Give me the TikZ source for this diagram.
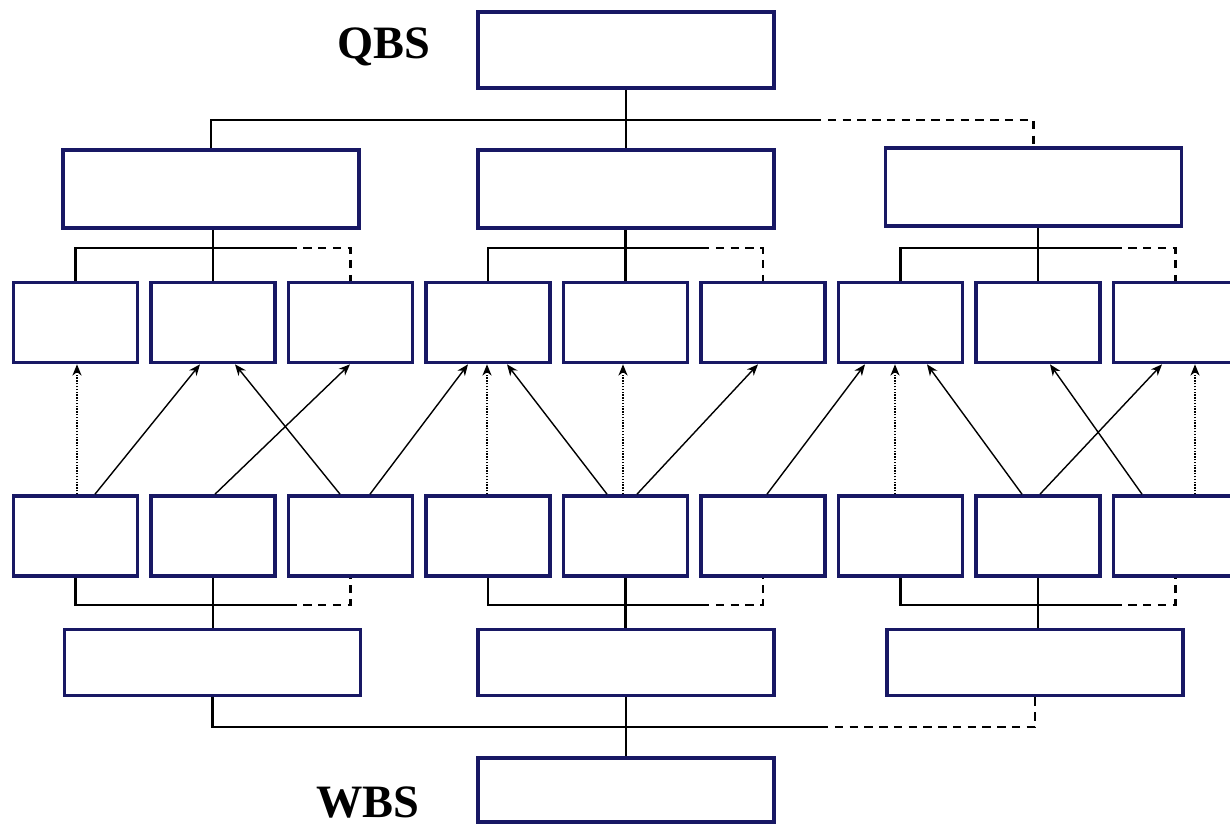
\documentclass[tikz,border=0pt]{standalone}
\usepackage{fontspec}
\setmainfont{Liberation Serif}
\usetikzlibrary{calc,arrows.meta}

\definecolor{boxblue}{RGB}{24,24,100}

\tikzset{
	widebox/.style={draw=boxblue, line width=2.6pt, fill=white, inner sep=0pt,
		minimum width=7.4cm, minimum height=1.95cm},
	smallbox/.style={draw=boxblue, line width=2.6pt, fill=white, inner sep=0pt,
		minimum width=3.1cm, minimum height=2cm},
	link/.style={line width=1.5pt},
	linkdash/.style={line width=1.5pt, dash pattern=on 6pt off 4.5pt},
	trace/.style={->, line width=1pt},
	tracev/.style={->, line width=1pt, densely dotted},
	tag/.style={font=\bfseries\fontsize{33}{33}\selectfont},
}

\begin{document}
\begin{tikzpicture}[x=0.025cm,y=-0.025cm,>={Stealth[length=8pt,width=6.5pt,inset=2.5pt]}]
	
	\useasboundingbox (0,0) rectangle (1230,827);
	
	% Draw the QBS tree (top)
	\node[tag] (qbs) at (384,47) {QBS};
	\node[widebox, minimum height=1.9cm] (q0) at (626,50) {};
	\node[widebox] (q1) at (211,189) {};
	\node[widebox] (q2) at (626,189) {};
	\node[widebox] (q3) at (1033.5,187) {};
	
	\coordinate (qdash) at (813,120);
	\draw[link] (q0.south) -- (q2.north);
	\draw[link] (q1.north) |- (qdash);
	\draw[linkdash] (qdash) -| (q3.north);
	
	% Draw the WBS tree (bottom)
	\node[widebox, minimum height=1.65cm] (w1) at (212.5,662.5) {};
	\node[widebox, minimum height=1.65cm] (w2) at (626,662.5) {};
	\node[widebox, minimum height=1.65cm] (w3) at (1035,662.5) {};
	\node[widebox, minimum height=1.6cm] (w0) at (626,790) {};
	\node[tag] (wbs) at (368,802) {WBS};
	
	\coordinate (wdash) at (820,727);
	\draw[link] (w2.south) -- (w0.north);
	\draw[link] (w1.south) |- (wdash);
	\draw[linkdash] (wdash) -| (w3.south);
	
	% Draw the two rows of small boxes
	\foreach \i in {1,...,9}{
		\node[smallbox] (a\i) at ({75.5+137.5*(\i-1)},322.5) {};
		\node[smallbox] (b\i) at ({75.5+137.5*(\i-1)},536) {};
	}
	
	% Draw the group connectors
	\foreach \g/\l/\m/\r in {1/1/2/3, 2/4/5/6, 3/7/8/9}{
		\coordinate (up\g) at ($(a\r.north)+(-62,-32.5)$);
		\draw[link] (a\m.north) -- (a\m.north |- q\g.south);
		\draw[link] (a\l.north) |- (up\g);
		\draw[linkdash] (up\g) -| (a\r.north);
		
		\coordinate (dn\g) at ($(b\r.south)+(-62,27)$);
		\draw[link] (b\m.south) -- (b\m.south |- w\g.north);
		\draw[link] (b\l.south) |- (dn\g);
		\draw[linkdash] (dn\g) -| (b\r.south);
	}
	
	% Draw the upward traces, diagonal
	\foreach \s/\sx/\t/\tx in {1/19.5/2/-13, 2/2/3/-0.5, 3/-10.5/2/22, 3/19.5/4/-20,
		5/-18.5/4/19, 5/11.5/6/-5, 6/4/7/-35.5, 8/-16/7/26.5, 8/2/9/-13.5, 9/-33.5/8/12}{
		\draw[trace] ($(b\s.north)+(\sx,0)$) -- ($(a\t.south)+(\tx,0)$);
	}
	
	% Draw the upward traces, vertical
	\foreach \s/\sx in {1/1.5, 4/-1, 5/-2.5, 7/-5.5, 9/19.5}{
		\draw[tracev] ($(b\s.north)+(\sx,0)$) -- ($(a\s.south)+(\sx,0)$);
	}
	
\end{tikzpicture}
\end{document}
